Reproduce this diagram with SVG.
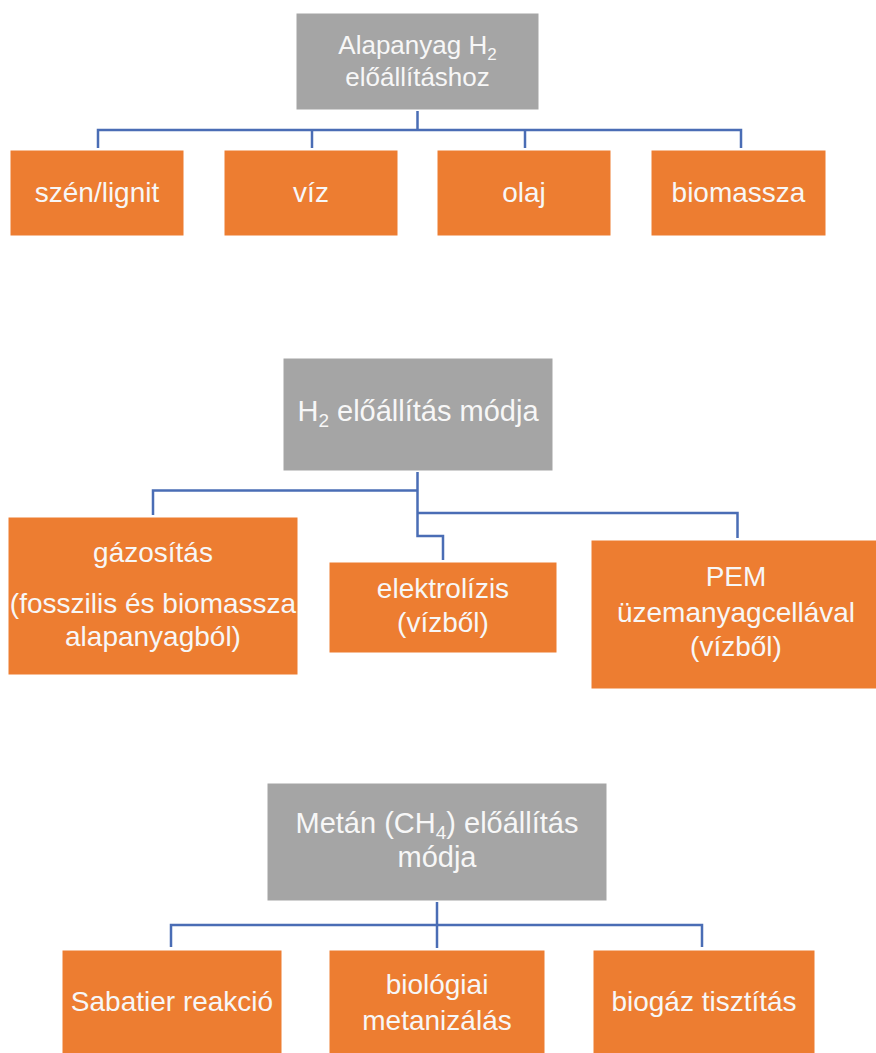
<svg xmlns="http://www.w3.org/2000/svg" width="876" height="1053" viewBox="0 0 876 1053">
  <style>
    .head { fill: #a5a5a5; stroke: #ffffff; stroke-width: 1; }
    .leaf { fill: #ed7d31; stroke: #ffffff; stroke-width: 1; }
    .lbl { font-family: "Liberation Sans", Arial, sans-serif; fill: #f7f7f7; text-anchor: middle; }
    .hl { font-size: 26px; }
    .hl2 { font-size: 29px; }
    .ll { font-size: 28px; }
    .sub { font-size: 17px; }
    .sub2 { font-size: 19px; }
    .wire { fill: none; stroke: #4a6db5; stroke-width: 2.5; stroke-linejoin: miter; }
  </style>

  <!-- connectors -->
  <g id="connectors" class="wire">
    <!-- tier 1 -->
    <path d="M417.5 111 V130"/>
    <path d="M98 148 V130 H741 V148"/>
    <path d="M312 130 V148"/>
    <path d="M525 130 V148"/>
    <!-- tier 2 -->
    <path d="M417.5 472 V536 H443 V560"/>
    <path d="M153 515 V490.5 H417.5"/>
    <path d="M417.5 513 H737.5 V538"/>
    <!-- tier 3 -->
    <path d="M437 902 V948"/>
    <path d="M171 947 V925 H702 V947"/>
  </g>

  <!-- tier 1 nodes -->
  <g id="node-alapanyag">
    <rect class="head" x="296" y="13" width="243" height="97"/>
    <text class="lbl hl" x="417.5" y="54">Alapanyag H<tspan class="sub" dy="6">2</tspan></text>
    <text class="lbl hl" x="417.5" y="86">előállításhoz</text>
  </g>
  <g id="node-szen">
    <rect class="leaf" x="10" y="150" width="174" height="86"/>
    <text class="lbl ll" x="97" y="202">szén/lignit</text>
  </g>
  <g id="node-viz">
    <rect class="leaf" x="224" y="150" width="174" height="86"/>
    <text class="lbl ll" x="311" y="202">víz</text>
  </g>
  <g id="node-olaj">
    <rect class="leaf" x="437" y="150" width="174" height="86"/>
    <text class="lbl ll" x="524" y="202">olaj</text>
  </g>
  <g id="node-biomassza">
    <rect class="leaf" x="651" y="150" width="175" height="86"/>
    <text class="lbl ll" x="738.5" y="202">biomassza</text>
  </g>

  <!-- tier 2 nodes -->
  <g id="node-h2-modja">
    <rect class="head" x="283" y="358" width="270" height="113"/>
    <text class="lbl hl2" x="418" y="421">H<tspan class="sub2" dy="6">2</tspan><tspan dy="-6"> előállítás módja</tspan></text>
  </g>
  <g id="node-gazositas">
    <rect class="leaf" x="8" y="517" width="290" height="158"/>
    <text class="lbl ll" x="153" y="562">gázosítás</text>
    <text class="lbl ll" x="153" y="613">(fosszilis és biomassza</text>
    <text class="lbl ll" x="153" y="646">alapanyagból)</text>
  </g>
  <g id="node-elektrolizis">
    <rect class="leaf" x="329" y="562" width="228" height="91"/>
    <text class="lbl ll" x="443" y="598">elektrolízis</text>
    <text class="lbl ll" x="443" y="632">(vízből)</text>
  </g>
  <g id="node-pem">
    <rect class="leaf" x="591" y="540" width="290" height="149"/>
    <text class="lbl ll" x="736" y="586">PEM</text>
    <text class="lbl ll" x="736" y="622">üzemanyagcellával</text>
    <text class="lbl ll" x="736" y="656">(vízből)</text>
  </g>

  <!-- tier 3 nodes -->
  <g id="node-metan-modja">
    <rect class="head" x="267" y="783" width="340" height="118"/>
    <text class="lbl hl2" x="437" y="833">Metán (CH<tspan class="sub2" dy="6">4</tspan><tspan dy="-6">) előállítás</tspan></text>
    <text class="lbl hl2" x="437" y="867">módja</text>
  </g>
  <g id="node-sabatier">
    <rect class="leaf" x="62" y="950" width="220" height="110"/>
    <text class="lbl ll" x="172" y="1011">Sabatier reakció</text>
  </g>
  <g id="node-biologiai">
    <rect class="leaf" x="329" y="950" width="216" height="110"/>
    <text class="lbl ll" x="437" y="994">biológiai</text>
    <text class="lbl ll" x="437" y="1030">metanizálás</text>
  </g>
  <g id="node-biogaz">
    <rect class="leaf" x="593" y="950" width="222" height="110"/>
    <text class="lbl ll" x="704" y="1011">biogáz tisztítás</text>
  </g>
</svg>
